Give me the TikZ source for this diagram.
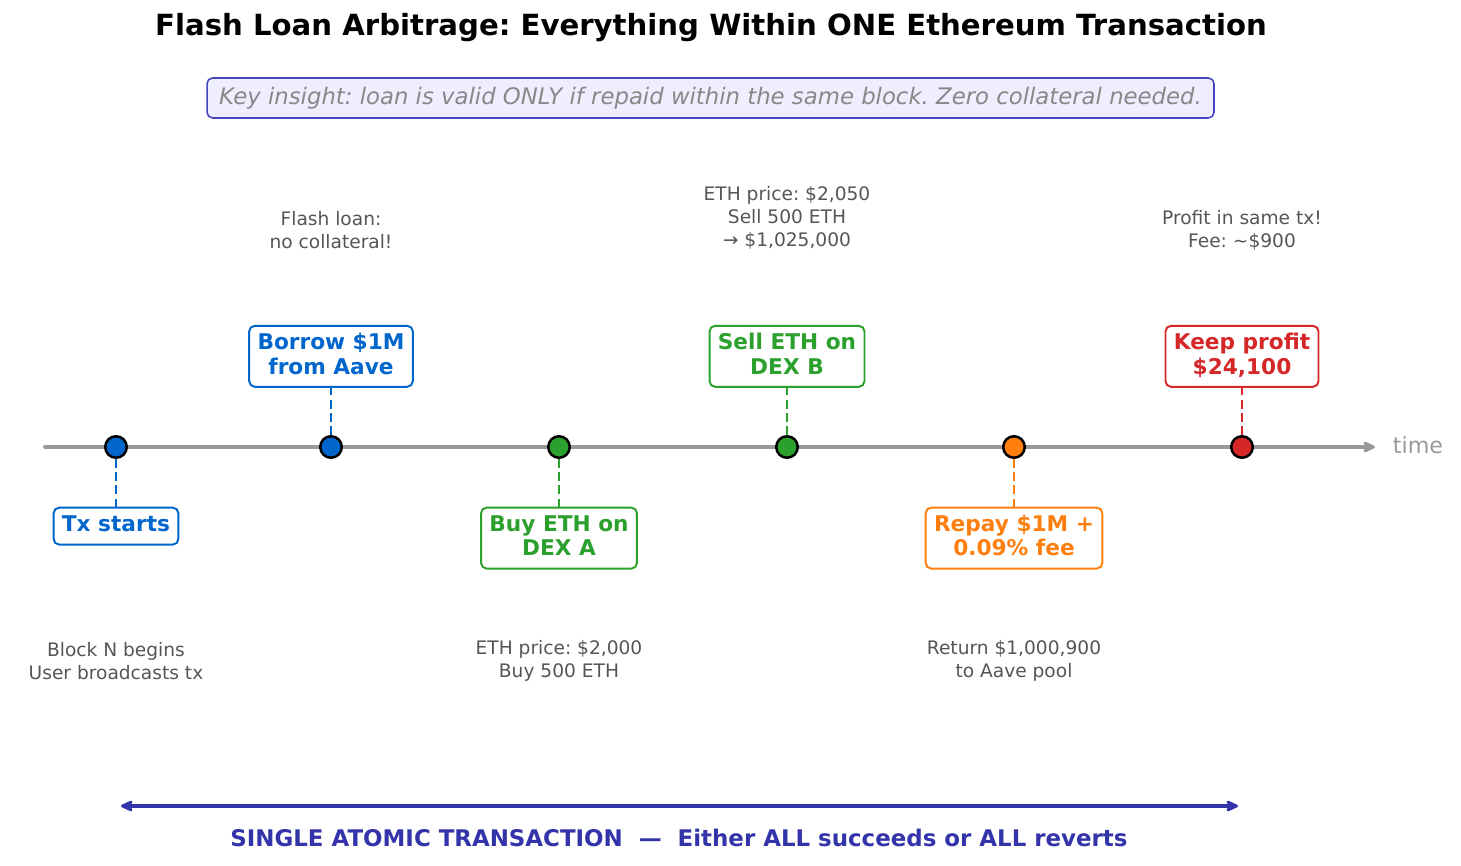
\documentclass[tikz,border=0pt]{standalone}
\usepackage{fontspec}
\setmainfont{DejaVu Sans}
\usepackage{xcolor}
\usetikzlibrary{arrows.meta,positioning}

\definecolor{txblue}{HTML}{0066CC}
\definecolor{dexgreen}{HTML}{2CA02C}
\definecolor{repayorange}{HTML}{FF7F0E}
\definecolor{profitred}{HTML}{D62728}
\definecolor{axisgray}{HTML}{999999}
\definecolor{notegray}{HTML}{555555}
\definecolor{atomblue}{HTML}{3333AA}
\definecolor{insightfill}{HTML}{EEEEFF}
\definecolor{insightdraw}{HTML}{4444BB}
\definecolor{insighttext}{HTML}{888888}

\tikzset{
  event/.style={circle, draw=black, line width=1.8pt, fill=#1, minimum size=15.5pt, inner sep=0pt},
  stepbox/.style={draw=#1, text=#1, line width=1.4pt, rounded corners=4pt, fill=white,
    align=center, inner xsep=6pt, inner ysep=5.6pt, text height=29.1pt, text depth=3.6pt,
    font=\fontsize{15.6}{17.3}\selectfont\bfseries},
  oneline/.style={text height=11.8pt},
  tick/.style={draw=#1, line width=1.9pt, dash pattern=on 6.5pt off 3pt},
  note/.style={text=notegray, align=center, font=\fontsize{13.4}{16.6}\selectfont},
}

\begin{document}
\frenchspacing
\begin{tikzpicture}[x=0.72pt, y=-0.72pt]
		\useasboundingbox (0,0) rectangle (1461,866);
		
		\node (title) at (711,28) {\fontsize{21}{24}\selectfont\bfseries Flash Loan Arbitrage: Everything Within ONE Ethereum Transaction};
		\node[draw=insightdraw, line width=1.1pt, fill=insightfill, rounded corners=4pt,
		  minimum width=725pt, minimum height=28.8pt, inner sep=0pt, text=insighttext] (insight) at (710.5,98)
		  {\fontsize{16.4}{19}\selectfont\itshape Key insight: loan is valid ONLY if repaid within the same block. Zero collateral needed.};
		
		% time axis
		\coordinate (axis start) at (45,447);
		\coordinate (axis end) at (1375,447);
		\draw[axisgray, line width=2.9pt, line cap=round, -{Stealth[length=11pt, width=10pt, inset=3pt, round]}] (axis start) -- (axis end);
		\node[text=axisgray, anchor=west, font=\fontsize{16}{19}\selectfont] (time) at (1388,445) {time};
		
		% events on the axis
		\node[event=txblue] (tx) at (116,447) {};
		\node[event=txblue] (borrow) at (331,447) {};
		\node[event=dexgreen] (buy) at (559,447) {};
		\node[event=dexgreen] (sell) at (787,447) {};
		\node[event=repayorange] (repay) at (1014,447) {};
		\node[event=profitred] (keep) at (1242,447) {};
		
		\node[stepbox=txblue, oneline, below=34.3pt of tx] (tx box) {Tx starts};
		\node[stepbox=txblue, above=34pt of borrow] (borrow box) {Borrow \$1M\\from Aave};
		\node[stepbox=dexgreen, below=34.3pt of buy] (buy box) {Buy ETH on\\DEX A};
		\node[stepbox=dexgreen, above=34pt of sell] (sell box) {Sell ETH on\\DEX B};
		\node[stepbox=repayorange, below=34.3pt of repay] (repay box) {Repay \$1M +\\0.09\% fee};
		\node[stepbox=profitred, above=34pt of keep] (keep box) {Keep profit\\\$24,100};
		
		\draw[tick=txblue] (tx) -- (tx box);
		\draw[tick=txblue] (borrow) -- (borrow box);
		\draw[tick=dexgreen] (buy) -- (buy box);
		\draw[tick=dexgreen] (sell) -- (sell box);
		\draw[tick=repayorange] (repay) -- (repay box);
		\draw[tick=profitred] (keep) -- (keep box);
		
		% notes
		\node[note] (tx note) at (116,661) {Block N begins\\User broadcasts tx};
		\node[note] (borrow note) at (331,230) {Flash loan:\\no collateral!};
		\node[note] (buy note) at (559,661) {ETH price: \$2,000\\Buy 500 ETH};
		\node[note] (sell note) at (787,218) {ETH price: \$2,050\\Sell 500 ETH\\→ \$1,025,000};
		\node[note] (repay note) at (1014,661) {Return \$1,000,900\\to Aave pool};
		\node[note] (keep note) at (1242,230) {Profit in same tx!\\Fee: \textasciitilde\$900};
		
		% atomic span
		\coordinate (span start) at (121,806);
		\coordinate (span end) at (1238,806);
		\draw[atomblue, line width=2.9pt, {Stealth[length=11pt, width=10pt, inset=3pt, round]}-{Stealth[length=11pt, width=10pt, inset=3pt, round]}] (span start) -- (span end);
		\node[text=atomblue] (span label) at (679,838) {\fontsize{16.5}{19}\selectfont\bfseries SINGLE ATOMIC TRANSACTION\ \ —\ \ Either ALL succeeds or ALL reverts};
	\end{tikzpicture}
\end{document}
